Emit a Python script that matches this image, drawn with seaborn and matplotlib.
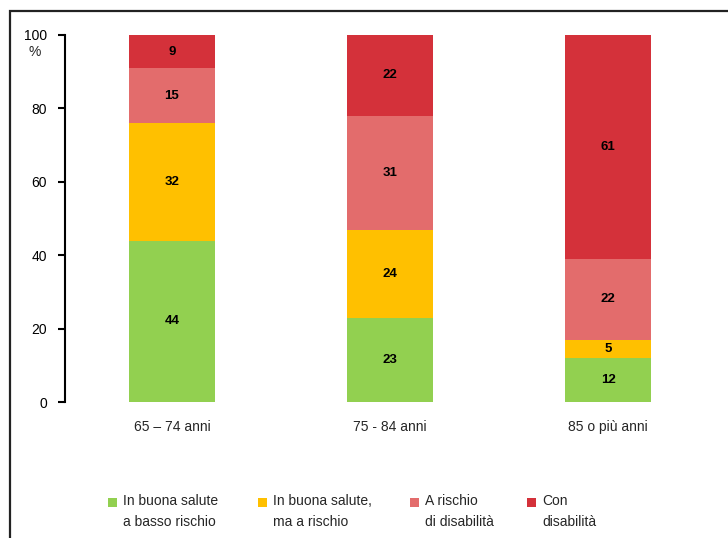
import numpy as np
import pandas as pd
import seaborn as sns
import matplotlib.pyplot as plt
from matplotlib.patches import Rectangle

# dati (%)
classi = ['65 – 74 anni', '75 - 84 anni', '85 o più anni']
buona_basso = [44, 23, 12]
buona_rischio = [32, 24, 5]
rischio_dis = [15, 31, 22]
con_dis = [9, 22, 61]

serie = ['In buona salute\na basso rischio', 'In buona salute,\nma a rischio',
         'A rischio\ndi disabilità', 'Con\ndisabilità']
colori = ['#92D050', '#FFC000', '#E36C6C', '#D4313A']

sns.set_style('white')
plt.rcParams['font.family'] = ['Liberation Sans', 'DejaVu Sans']

W, H = 728, 538
fig = plt.figure(figsize=(W / 100, H / 100), dpi=100)
ax = fig.add_axes([65 / W, 1 - 402 / H, 650 / W, 367 / H])

valori = np.array([buona_basso, buona_rischio, rischio_dis, con_dis])
cum = valori.cumsum(axis=0)

# barre cumulative, dalla più alta alla più bassa
for i in range(3, -1, -1):
    df = pd.DataFrame({'classe': classi, 'v': cum[i]})
    sns.barplot(data=df, x='classe', y='v', color=colori[i], width=0.395,
                saturation=1, ax=ax, linewidth=0)

for i in range(4):
    for j in range(3):
        centro = cum[i, j] - valori[i, j] / 2
        ax.text(j, centro, str(valori[i, j]), ha='center', va='center',
                fontsize=9.5, fontweight='bold', color='black')

ax.set_ylim(0, 100)
ax.set_xlim(-0.49, 2.49)
ax.set_yticks(range(0, 101, 20))
ax.set_xlabel('')
ax.set_ylabel('')
for s in ['top', 'right', 'bottom']:
    ax.spines[s].set_visible(False)
ax.spines['left'].set_color('black')
ax.spines['left'].set_linewidth(1.5)
ax.tick_params(axis='y', direction='out', length=5, width=1.5, labelsize=10,
               pad=8, left=True, colors='black')
ax.tick_params(axis='x', length=0, labelsize=10, pad=13)
ax.text(-30 / 650, 0.955, '%', transform=ax.transAxes, ha='center',
        va='center', fontsize=10)

# cornice
fig.patches.append(Rectangle((10 / W, -0.1), 1.2, (H - 11) / H + 0.1,
                             transform=fig.transFigure, fill=False,
                             edgecolor='#222222', linewidth=1.6))

# legenda in basso
leg_x = [108, 258, 410, 527]
for x, c, lab in zip(leg_x, colori, serie):
    fig.patches.append(Rectangle((x / W, 1 - 507 / H), 9 / W, 9 / H,
                                 transform=fig.transFigure, facecolor=c,
                                 edgecolor='none'))
    fig.text((x + 15) / W, 1 - 494 / H, lab, ha='left', va='top',
             fontsize=10, linespacing=1.6)

fig.savefig('out.png', dpi=100)
